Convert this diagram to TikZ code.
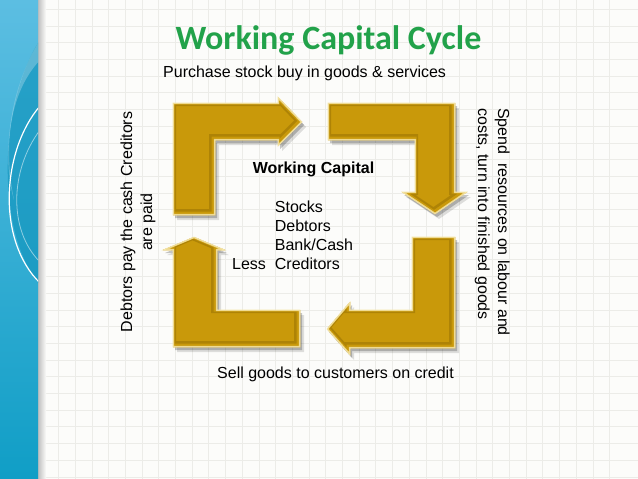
\documentclass[tikz,border=0pt]{standalone}
\usepackage{fontspec}
\setmainfont{Liberation Sans}
\newfontfamily\titlefont{Carlito}
\usetikzlibrary{calc}
\definecolor{gold}{RGB}{201,153,10}
\definecolor{golddark}{RGB}{120,86,0}
\definecolor{goldlight}{RGB}{245,230,170}
\definecolor{titlegreen}{RGB}{34,162,74}
\definecolor{bandtop}{RGB}{92,190,226}
\definecolor{bandbot}{RGB}{16,158,198}
\definecolor{banddeep}{RGB}{20,150,190}
\definecolor{gridc}{RGB}{236,236,232}
\definecolor{paper}{RGB}{252,252,250}
\newcommand\arrowA{(173,215) -- (173,103) -- (278,103) -- (278,97) -- (302,122) -- (278,146) -- (278,140) -- (215,140) -- (215,215) -- cycle}
\newcommand\arrowB{(328,103) -- (455,103) -- (455,192) -- (467,192) -- (435,214) -- (402,192) -- (415,192) -- (415,140) -- (328,140) -- cycle}
\newcommand\arrowC{(412,237) -- (455,237) -- (455,348) -- (350,348) -- (350,355) -- (327,329) -- (350,302) -- (350,310) -- (412,310) -- cycle}
\newcommand\arrowD{(300,310) -- (300,347) -- (173,347) -- (173,250) -- (163,250) -- (194,237) -- (225,250) -- (217,250) -- (217,310) -- cycle}
\newcommand\bevelarrow[1]{%
  \fill[black,opacity=.12,shift={(4,5)}] #1;
  \fill[black,opacity=.22,shift={(2,3)}] #1;
  \fill[gold] #1;
  \begin{scope}
    \clip #1;
    \draw[golddark,opacity=.32,line width=9pt,shift={(-1.5,-1.5)}] #1;
    \draw[gold,line width=5pt,shift={(-1,-1)}] #1;
    \draw[goldlight,opacity=.8,line width=2.4pt] #1;
  \end{scope}
  \draw[goldlight,line width=.6pt] #1;
}
\tikzset{
  label16/.style={font=\fontsize{16}{19}\selectfont, inner sep=0pt, text=black},
}
\begin{document}
\begin{tikzpicture}[x=1pt,y=-1pt]
\useasboundingbox (0,0) rectangle (638,479);
% paper and grid
\fill[paper] (0,0) rectangle (638,479);
\foreach \i in {0,...,36} {
  \draw[gridc,line width=.6pt] ({8.3+16.7*\i},0) -- ({8.3+16.7*\i},479);
}
\foreach \j in {0,...,28} {
  \draw[gridc,line width=.6pt] (0,{9.2+16.7*\j}) -- (638,{9.2+16.7*\j});
}
% blue band
\shade[left color=black!25, right color=paper] (38,0) rectangle (46,479);
\shade[top color=bandtop, bottom color=bandbot] (0,0) rectangle (38,479);
\begin{scope}
  \clip (0,0) rectangle (38,479);
  \fill[banddeep,opacity=.7] (40,40) .. controls (0,100) and (-6,230) .. (40,285) -- cycle;
  \fill[white,opacity=.25] (40,40) .. controls (8,90) and (2,160) .. (14,200) .. controls (2,140) and (12,90) .. (40,60) -- cycle;
  \draw[white,line width=1.2pt] (40,106) .. controls (2,150) and (-4,240) .. (40,283);
  \draw[white,opacity=.5,line width=.8pt] (40,130) .. controls (10,170) and (8,230) .. (40,262);
\end{scope}
% arrows
\bevelarrow{\arrowA}
\bevelarrow{\arrowB}
\bevelarrow{\arrowC}
\bevelarrow{\arrowD}
% title
\node (title) [anchor=base, inner sep=0pt, text=titlegreen, font=\titlefont\bfseries\fontsize{34}{40}\selectfont] at (328.5,49) {Working Capital Cycle};
% labels
\node (purchase) [label16, anchor=base west] at (163,77) {Purchase stock buy in goods \& services};
\node (sell) [label16, anchor=base west] at (217,378) {Sell goods to customers on credit};
\node (spend) [label16, rotate=-90, anchor=north west, align=left, font=\fontsize{16}{20}\selectfont] at (510,108) {Spend\ \ resources on labour and\\costs, turn into finished goods};
\node (debtors) [label16, rotate=90, anchor=center, align=center, font=\fontsize{16}{20}\selectfont] at (138,222) {Debtors pay the cash Creditors\\are paid};
\node (wc) [label16, anchor=base, font=\bfseries\fontsize{16}{19}\selectfont] at (313.5,173) {Working Capital};
\node (items) [label16, anchor=north west, align=left] at (232,200.5) {\hphantom{Less\ \ }Stocks\\\hphantom{Less\ \ }Debtors\\\hphantom{Less\ \ }Bank/Cash\\Less\ \ Creditors};
\end{tikzpicture}
\end{document}
